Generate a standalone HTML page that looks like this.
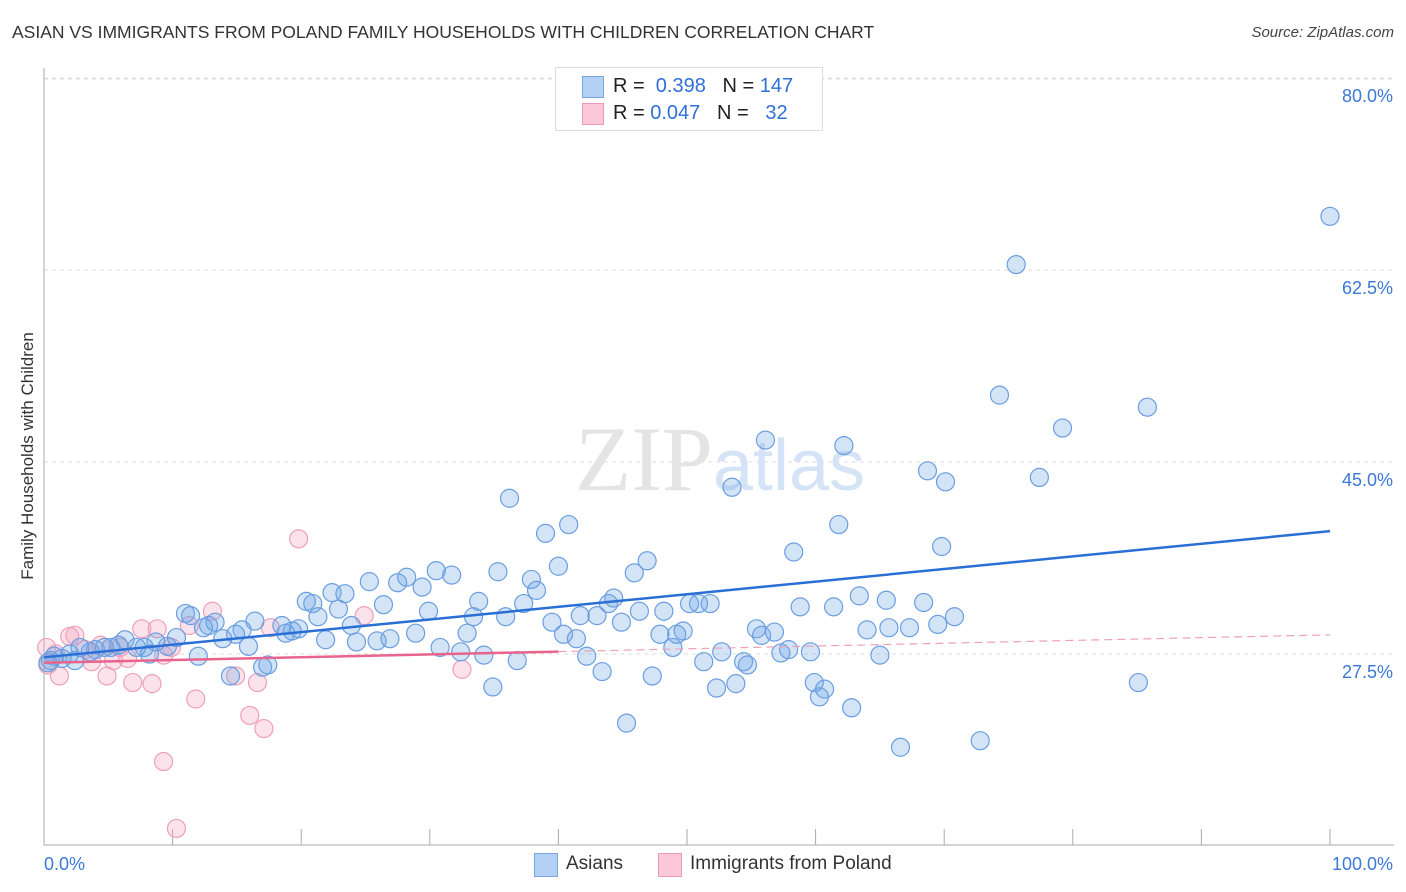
<!DOCTYPE html>
<html><head><meta charset="utf-8"><style>
body{margin:0;background:#fff;font-family:"Liberation Sans",sans-serif}
#wrap{position:relative;width:1406px;height:892px;overflow:hidden}
.t{position:absolute;white-space:nowrap}
</style></head><body>
<div id="wrap">
<div class="t" style="left:12px;top:22px;font-size:17.5px;color:#333">ASIAN VS IMMIGRANTS FROM POLAND FAMILY HOUSEHOLDS WITH CHILDREN CORRELATION CHART</div>
<div class="t" style="right:12px;top:24px;font-size:15px;color:#444;font-style:italic">Source: ZipAtlas.com</div>
<div class="t" style="left:28px;top:456px;font-size:17px;color:#333;transform:translate(-50%,-50%) rotate(-90deg)">Family Households with Children</div>
<svg id="plot" width="1406" height="892" style="position:absolute;left:0;top:0"></svg>
<div style="position:absolute;left:555px;top:67px;width:266px;height:62px;border:1px solid #ddd;background:#fff">
 <div style="position:absolute;left:26px;top:8px;width:20px;height:20px;background:#b4d0f4;border:1px solid #7aa6e0"></div>
 <div class="t" style="left:57px;top:7px;font-size:20px;color:#222">R = <span style="color:#2f6fd6">&nbsp;0.398</span>&nbsp;&nbsp;&nbsp;N = <span style="color:#2f6fd6">147</span></div>
 <div style="position:absolute;left:26px;top:35px;width:20px;height:20px;background:#fac8d8;border:1px solid #ee9ab5"></div>
 <div class="t" style="left:57px;top:34px;font-size:20px;color:#222">R = <span style="color:#2f6fd6">0.047</span>&nbsp;&nbsp;&nbsp;N = <span style="color:#2f6fd6">&nbsp;&nbsp;32</span></div>
</div>
<div style="position:absolute;left:534px;top:853px;width:22px;height:22px;background:#b4d0f4;border:1px solid #7aa6e0"></div>
<div class="t" style="left:566px;top:853px;font-size:19px;color:#333">Asians</div>
<div style="position:absolute;left:658px;top:853px;width:22px;height:22px;background:#fac8d8;border:1px solid #ee9ab5"></div>
<div class="t" style="left:690px;top:853px;font-size:19px;color:#333">Immigrants from Poland</div>
</div>
<script>
const yTicks=[80,62.5,45,27.5];
const yTickLabels=["80.0%","62.5%","45.0%","27.5%"];
const asianX=[100,75.6,74.3,85.8,79.2,56.1,62.2,68.7,70.1,77.4,53.5,36.2,39.0,40.8,61.8,69.8,58.3,46.9,40.0,35.3,45.9,30.5,31.7,28.2,25.3,27.5,37.9,38.3,22.4,23.4,29.4,20.4,20.9,26.4,33.8,37.3,44.3,43.9,50.2,50.9,51.8,63.4,65.5,68.4,58.8,61.4,48.2,46.3,41.7,43.0,70.8,22.9,21.3,29.9,33.4,35.9,11.0,11.4,16.4,13.3,12.8,12.4,18.5,19.8,19.3,18.8,15.4,14.9,13.9,23.9,28.9,32.9,39.5,40.4,41.4,44.9,47.9,49.7,49.2,55.4,55.8,56.8,64.0,65.7,67.3,69.5,21.9,24.3,25.9,26.9,30.8,32.4,34.2,36.8,42.2,48.9,52.7,57.3,57.9,59.6,65.0,15.9,10.3,9.6,8.7,8.2,7.8,7.2,6.3,5.8,5.2,4.7,4.0,3.6,2.8,2.0,1.4,0.8,0.5,12.0,51.3,54.4,54.7,14.5,17.0,17.4,43.4,47.3,52.3,53.8,59.9,60.7,60.3,62.8,34.9,45.3,66.6,72.8,85.1,0.3,2.4];
const asianY=[67.4,63.0,51.1,50.0,48.1,47.0,46.5,44.2,43.2,43.6,42.7,41.7,38.5,39.3,39.3,37.3,36.8,36.0,35.5,35.0,34.9,35.1,34.7,34.5,34.1,34.0,34.3,33.3,33.1,33.0,33.6,32.3,32.1,32.0,32.3,32.1,32.6,32.1,32.1,32.1,32.1,32.8,32.4,32.2,31.8,31.8,31.4,31.4,31.0,31.0,30.9,31.6,30.9,31.4,30.9,30.9,31.2,31.0,30.5,30.4,30.1,29.9,30.1,29.8,29.6,29.4,29.7,29.3,28.9,30.1,29.4,29.4,30.4,29.3,28.9,30.4,29.3,29.6,29.3,29.8,29.2,29.5,29.7,29.9,29.9,30.2,28.8,28.6,28.7,28.9,28.1,27.7,27.4,26.9,27.3,28.1,27.7,27.6,27.9,27.7,27.4,28.2,29.0,28.2,28.6,27.5,28.1,28.1,28.8,28.3,28.1,28.1,27.9,27.7,28.1,27.5,27.1,27.3,26.9,27.3,26.8,26.8,26.5,25.5,26.3,26.5,25.9,25.5,24.4,24.8,24.9,24.3,23.6,22.6,24.5,21.2,19.0,19.6,24.9,26.7,26.9];
const polandX=[0.2,0.3,1.2,2.0,2.4,3.7,4.4,4.9,5.4,6.5,6.9,7.6,8.4,8.8,9.9,11.3,11.8,13.1,14.9,16.0,16.6,17.1,17.6,19.8,24.9,32.5,9.3,10.3,9.3,5.9,3.2,0.9];
const polandY=[28.1,26.5,25.5,29.1,29.2,26.8,28.3,25.5,26.9,27.1,24.9,29.8,24.8,29.8,28.1,30.1,23.4,31.4,25.5,21.9,24.9,20.7,29.9,38.0,31.0,26.1,17.7,11.6,27.4,28.1,27.9,27.5];
const asianTrend=[27.2,38.7];
const polandTrend=[26.7,29.25];
const NS="http://www.w3.org/2000/svg";
const svg=document.getElementById('plot');
const X=v=>44+v*12.86, Y=v=>955.7-v*10.97;
function mk(t,a){const e=document.createElementNS(NS,t);for(const k in a)e.setAttribute(k,a[k]);svg.appendChild(e);return e;}
const topGrid=mk('line',{x1:44,x2:1394,y1:79,y2:79,stroke:'#ddd','stroke-dasharray':'4,4'});


yTicks.forEach((v,i)=>{
 const g=mk('line',{x1:44,x2:1394,y1:Y(v),y2:Y(v),stroke:'#ddd','stroke-dasharray':'4,4'});
 
 
 const t=mk('text',{x:1393,y:Y(v)+24,'text-anchor':'end','font-size':18,fill:'#3b78d8','font-family':'Liberation Sans, sans-serif'});
 t.textContent=yTickLabels[i];
 
 
});
const ya=mk('line',{x1:44,x2:44,y1:68,y2:845,stroke:'#aaa'});


const xa=mk('line',{x1:44,x2:1394,y1:845,y2:845,stroke:'#aaa'});


for(let i=1;i<=10;i++){const tk=mk('line',{x1:X(i*10),x2:X(i*10),y1:829,y2:845,stroke:'#aaa'});
 
 }
[["0.0%",44,'start'],["100.0%",1393,'end']].forEach(([s,x,a])=>{const t=mk('text',{x:x,y:870,'text-anchor':a,'font-size':18,fill:'#3b78d8','font-family':'Liberation Sans, sans-serif'});t.textContent=s;
 
 });
const wm=mk('text',{x:720,y:490,'text-anchor':'middle','font-size':92,fill:'#e4e4e4','font-family':'Liberation Serif, serif'});
wm.innerHTML='ZIP<tspan fill="#d4e3f5" font-family="Liberation Sans, sans-serif" font-size="72">atlas</tspan>';


polandX.forEach((x,i)=>{const c=mk('circle',{cx:X(x),cy:Y(polandY[i]),r:9,fill:'rgba(245,160,190,0.3)',stroke:'#eea0b9','stroke-width':1.2});
 
 });
asianX.forEach((x,i)=>{const c=mk('circle',{cx:X(x),cy:Y(asianY[i]),r:9,fill:'rgba(110,165,230,0.3)',stroke:'#6a9ee0','stroke-width':1.2});
 
 });
const pl=t=>polandTrend[0]+(polandTrend[1]-polandTrend[0])*t/100;
const pd=mk('line',{x1:X(40),y1:Y(pl(40)),x2:X(100),y2:Y(pl(100)),stroke:'#eea0b9','stroke-width':1.2,'stroke-dasharray':'8,5'});


const ps=mk('line',{x1:X(0),y1:Y(pl(0)),x2:X(40),y2:Y(pl(40)),stroke:'#e8648e','stroke-width':2.5});


const at=mk('line',{x1:X(0),y1:Y(asianTrend[0]),x2:X(100),y2:Y(asianTrend[1]),stroke:'#2a6fd6','stroke-width':2.5});


</script>
</body></html>
